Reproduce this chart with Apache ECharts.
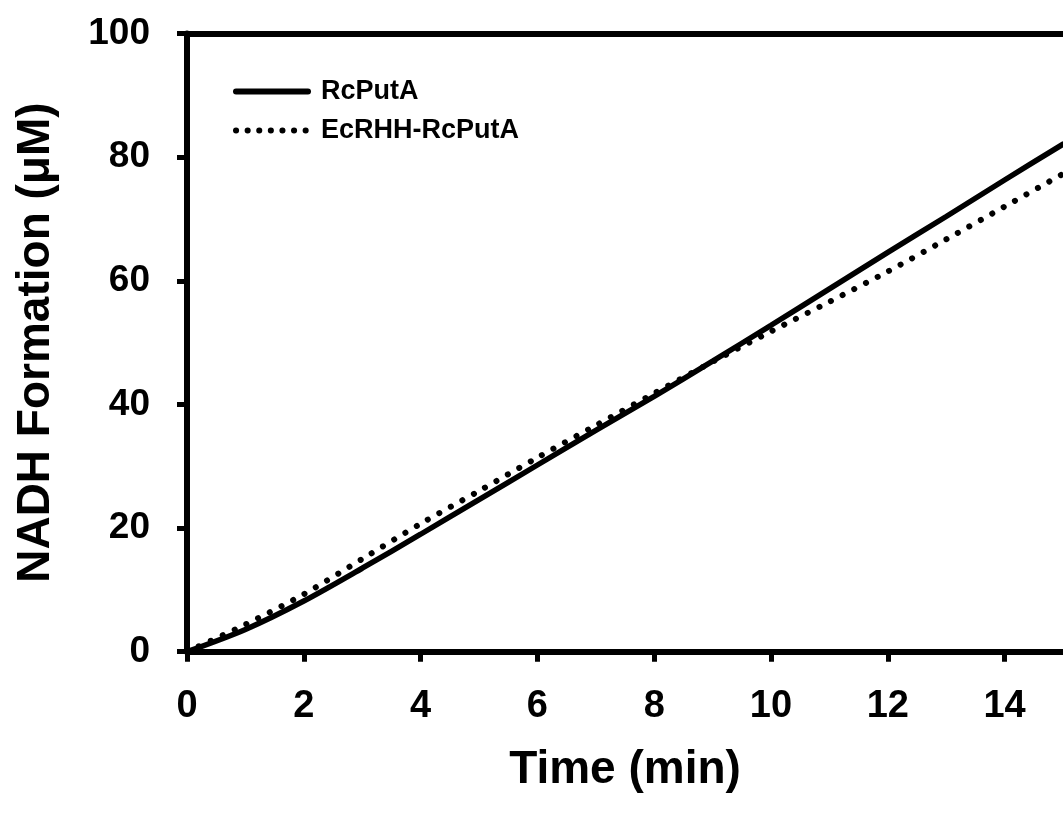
<!DOCTYPE html>
<html>
<head>
<meta charset="utf-8">
<script src="https://cdn.jsdelivr.net/npm/echarts@6/dist/echarts.min.js"></script>
<style>
  html, body { margin: 0; padding: 0; background: #fff; }
  #chart { width: 1063px; height: 814px; }
</style>
</head>
<body>
<div id="chart"></div>
<script>
// time in minutes
const times = [0, 1, 2, 3, 4, 5, 6, 7, 8, 9, 10, 11, 12, 13, 14, 15];
// NADH formation (uM)
const rcPutA = [0, 3.6, 8.2, 13.5, 19.0, 24.6, 30.2, 35.8, 41.3, 47.0, 52.8, 58.7, 64.6, 70.4, 76.3, 82.1];
const ecRhhRcPutA = [0, 4.4, 9.3, 15.0, 20.7, 26.0, 31.4, 36.6, 41.8, 46.9, 51.8, 56.6, 61.5, 66.7, 72.0, 77.3];
const seriesNames = ["RcPutA", "EcRHH-RcPutA"];

const FONT = "'Liberation Sans', Arial, sans-serif";
const INK = "#000";
const DOTS = [0.1, 13];

const pairs = ys => times.map((t, i) => [t, ys[i]]);

const chart = echarts.init(document.getElementById("chart"));

chart.setOption({
    animation: false,
    backgroundColor: "#fff",
    color: [INK, INK],
    grid: { left: 187, right: -8, top: 33.5, bottom: 162.3 },
    legend: {
        orient: "vertical",
        left: 228,
        top: 73,
        itemWidth: 72,
        itemHeight: 20,
        itemGap: 12,
        itemStyle: { opacity: 0 },
        data: [
            { name: seriesNames[0], lineStyle: { color: INK, width: 6, cap: "round" } },
            { name: seriesNames[1], lineStyle: { color: INK, width: 6, type: [0.1, 11.5], cap: "round" } }
        ],
        textStyle: { fontFamily: FONT, fontWeight: "bold", fontSize: 27, color: INK, padding: [0, 0, 0, 8] }
    },
    xAxis: [{
        type: "value",
        min: 0,
        max: 15,
        interval: 2,
        name: "Time (min)",
        nameLocation: "middle",
        nameGap: 96,
        nameTextStyle: { fontFamily: FONT, fontWeight: "bold", fontSize: 46, color: INK },
        axisLine: { show: true, lineStyle: { color: INK, width: 6 } },
        axisTick: { show: true, inside: false, length: 10, lineStyle: { color: INK, width: 5 } },
        axisLabel: { margin: 36, showMaxLabel: false, fontFamily: FONT, fontWeight: "bold", fontSize: 38, color: INK },
        splitLine: { show: false }
    }, {
        // top frame line
        type: "value",
        position: "top",
        min: 0,
        max: 15,
        axisLine: { show: true, lineStyle: { color: INK, width: 6 } },
        axisTick: { show: false },
        axisLabel: { show: false },
        splitLine: { show: false }
    }],
    yAxis: {
        type: "value",
        min: 0,
        max: 100,
        interval: 20,
        name: "NADH Formation (μM)",
        nameLocation: "middle",
        nameGap: 128,
        nameRotate: 90,
        nameTextStyle: { fontFamily: FONT, fontWeight: "bold", fontSize: 46, color: INK },
        axisLine: { show: true, lineStyle: { color: INK, width: 6 } },
        axisTick: { show: true, inside: false, length: 10, lineStyle: { color: INK, width: 5 } },
        axisLabel: { margin: 37, fontFamily: FONT, fontWeight: "bold", fontSize: 37, color: INK },
        splitLine: { show: false }
    },
    series: [{
        name: seriesNames[0],
        type: "line",
        data: pairs(rcPutA),
        smooth: 0.3,
        symbol: "none",
        z: 3,
        lineStyle: { color: INK, width: 5.5, cap: "round" }
    }, {
        name: seriesNames[1],
        type: "line",
        data: pairs(ecRhhRcPutA),
        smooth: 0.3,
        symbol: "none",
        z: 2,
        lineStyle: { color: INK, width: 6, type: DOTS, cap: "round" }
    }]
});
</script>
</body>
</html>
